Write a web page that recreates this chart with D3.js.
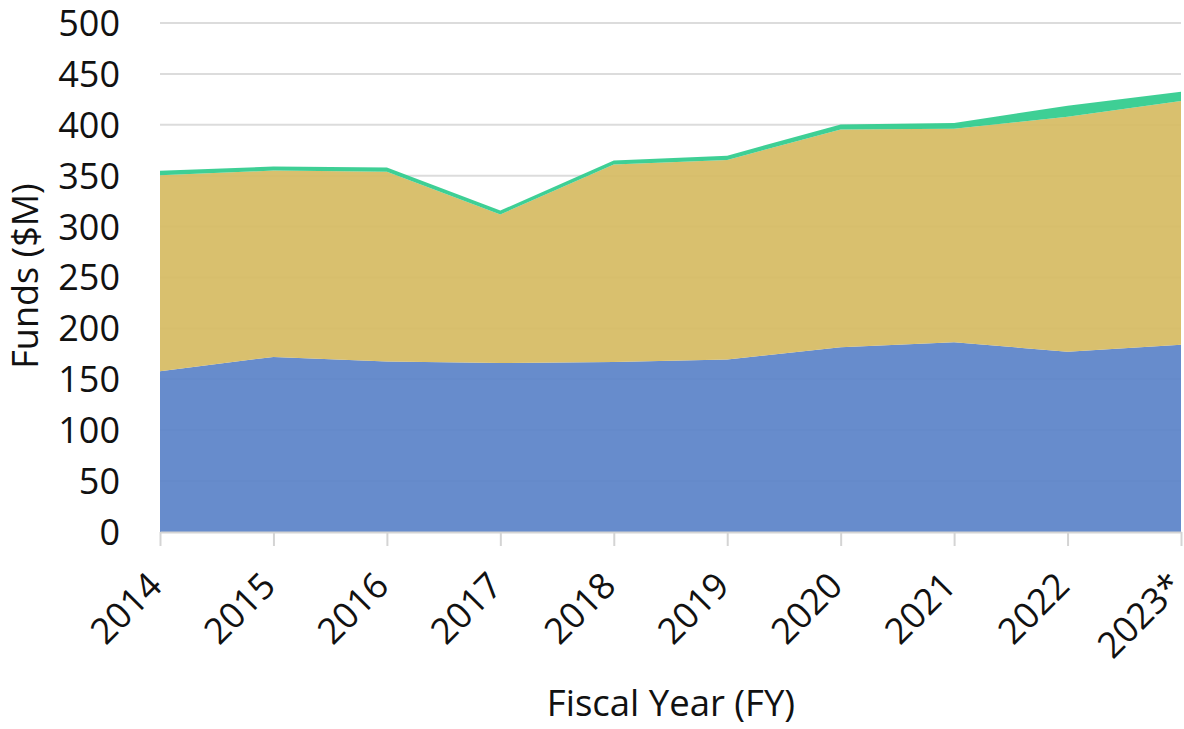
<!DOCTYPE html>
<html>
<head>
<meta charset="utf-8">
<script src="https://cdn.jsdelivr.net/npm/d3@7"></script>
<style>
  html, body { margin: 0; padding: 0; background: #fff; }
  svg text { font-family: "Open Sans", "Noto Sans", sans-serif; fill: #111; }
</style>
</head>
<body>
<svg id="chart" width="1184" height="729"></svg>
<script>
// values ($M)
const years = ["2014", "2015", "2016", "2017", "2018", "2019", "2020", "2021", "2022", "2023*"];
const seriesBlue = [158, 172, 167.5, 166, 167, 169.5, 181.5, 186.5, 177, 184];
const seriesGold = [192.5, 183, 186.5, 146, 194, 196, 214, 209.5, 231, 239.5];
const seriesGreen = [4.3, 4, 4, 3.8, 3.9, 4.2, 4.9, 5.8, 10.8, 9];
const yTicks = [0, 50, 100, 150, 200, 250, 300, 350, 400, 450, 500];

const keys = ["blue", "gold", "green"];
const colors = { blue: "#5a82c8", gold: "#d6bb62", green: "#2ecb8c" };

const rows = years.map((y, i) => ({
  year: y, blue: seriesBlue[i], gold: seriesGold[i], green: seriesGreen[i]
}));

const margin = { left: 160, right: 3, top: 23, bottom: 197 };
const W = 1184, H = 729;

const svg = d3.select("#chart");

const x = d3.scalePoint().domain(years).range([margin.left, W - margin.right]);
const y = d3.scaleLinear().domain([0, 500]).range([H - margin.bottom, margin.top]);

// gridlines
svg.append("g")
  .selectAll("line")
  .data(yTicks)
  .enter()
  .append("line")
  .attr("x1", margin.left)
  .attr("x2", W - margin.right)
  .attr("y1", d => y(d))
  .attr("y2", d => y(d))
  .attr("stroke", "#dcdcdc")
  .attr("stroke-width", 2);

// stacked areas
const stacked = d3.stack().keys(keys)(rows);
const area = d3.area()
  .x(d => x(d.data.year))
  .y0(d => y(d[0]))
  .y1(d => y(d[1]));

svg.append("g")
  .selectAll("path")
  .data(stacked)
  .enter()
  .append("path")
  .attr("d", area)
  .attr("fill", d => colors[d.key])
  .attr("fill-opacity", 0.92);

// x axis ticks
const xAxis = svg.append("g")
  .attr("transform", `translate(0,${y(0)})`)
  .call(d3.axisBottom(x).tickSize(14).tickSizeOuter(0).tickFormat(""));
xAxis.select(".domain").attr("stroke", "#d4d4d4").attr("stroke-width", 2);
xAxis.selectAll(".tick line").attr("stroke", "#d4d4d4").attr("stroke-width", 2);

// x tick labels, rotated
svg.append("g")
  .selectAll("text")
  .data(years)
  .enter()
  .append("text")
  .attr("transform", d => `translate(${x(d) + 4},${588}) rotate(-45)`)
  .attr("text-anchor", "end")
  .style("font-size", "36px")
  .text(d => d);

// y tick labels
svg.append("g")
  .selectAll("text")
  .data(yTicks)
  .enter()
  .append("text")
  .attr("x", 120)
  .attr("y", d => y(d))
  .attr("dy", "0.36em")
  .attr("text-anchor", "end")
  .style("font-size", "36px")
  .text(d => d);

// axis titles
svg.append("text")
  .attr("x", 671)
  .attr("y", 716)
  .attr("text-anchor", "middle")
  .style("font-size", "36.5px")
  .text("Fiscal Year (FY)");

svg.append("text")
  .attr("transform", `translate(38,${276}) rotate(-90)`)
  .attr("text-anchor", "middle")
  .style("font-size", "36px")
  .text("Funds ($M)");
</script>
</body>
</html>
